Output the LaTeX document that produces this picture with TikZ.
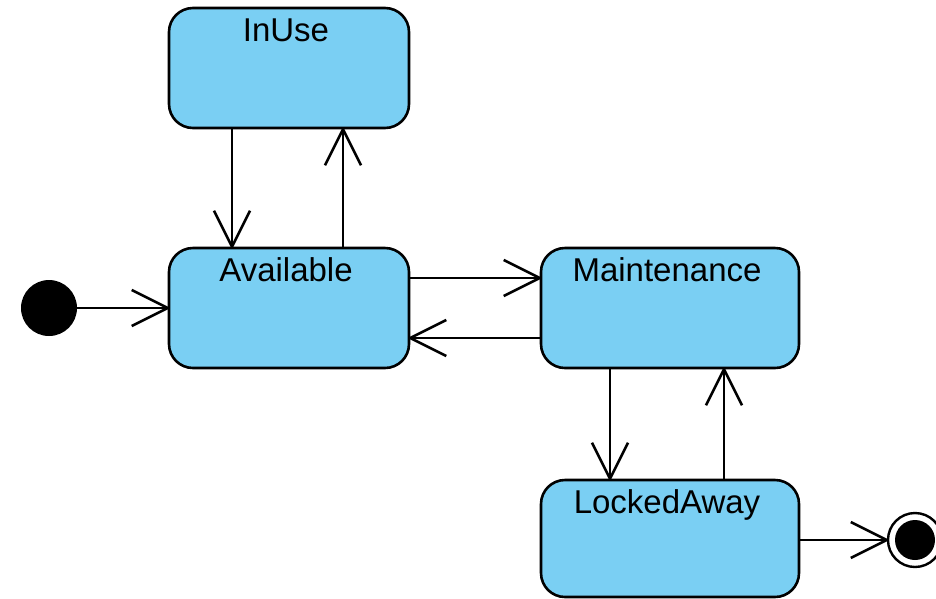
\documentclass[tikz,border=0pt]{standalone}
\usepackage{fontspec}
\setmainfont{Liberation Sans}
\usetikzlibrary{arrows.meta,calc}

% Open "V" arrow head made of two straight strokes
\pgfdeclarearrow{
  name = OpenV,
  parameters = {\the\pgfarrowlength,\the\pgfarrowwidth},
  setup code = {
    \pgfarrowssettipend{0pt}
    \pgfarrowssetlineend{-1pt}
    \pgfarrowssetbackend{-\pgfarrowlength}
    \pgfarrowssavethe\pgfarrowlength
    \pgfarrowssavethe\pgfarrowwidth
  },
  drawing code = {
    \pgfsetdash{}{0pt}
    \pgfsetroundjoin
    \pgfsetbuttcap
    \pgfpathmoveto{\pgfqpoint{-\pgfarrowlength}{0.5\pgfarrowwidth}}
    \pgfpathlineto{\pgfpointorigin}
    \pgfpathlineto{\pgfqpoint{-\pgfarrowlength}{-0.5\pgfarrowwidth}}
    \pgfusepathqstroke
  },
  defaults = {length = 36pt, width = 36pt}
}

\definecolor{statefill}{RGB}{122,207,243}

\tikzset{
  state/.style={draw=black, line width=2.6pt, fill=statefill,
    rounded corners=24pt, inner sep=0pt},
  statename/.style={anchor=base, inner sep=0pt, xshift=-3pt,
    font=\fontsize{33}{40}\selectfont},
  conn/.style={line width=2.6pt, -{OpenV}},
}

\begin{document}
\begin{tikzpicture}[x=1pt, y=-1pt]
  \useasboundingbox (0,0) rectangle (936,598);

  % states
  \node[state, minimum width=240pt, minimum height=120pt] (inuse) at (289,68) {};
  \node[state, minimum width=240pt, minimum height=120pt] (avail) at (289,308) {};
  \node[state, minimum width=258pt, minimum height=120pt] (maint) at (670,308) {};
  \node[state, minimum width=258pt, minimum height=117pt] (locked) at (670,538.5) {};

  % state names near the top edge
  \node[statename] (inuse-t) at ([yshift=-35pt]inuse.north) {InUse};
  \node[statename] (avail-t) at ([yshift=-35pt]avail.north) {Available};
  \node[statename] (maint-t) at ([yshift=-35pt]maint.north) {Maintenance};
  \node[statename] (locked-t) at ([yshift=-35pt]locked.north) {LockedAway};

  % pseudo states
  \node[circle, fill=black, minimum size=56pt, inner sep=0pt] (init) at (49,308) {};
  \node[circle, draw=black, line width=2.4pt, fill=white, minimum size=54pt, inner sep=0pt] (fin) at (915,540) {};
  \node[circle, fill=black, minimum size=40pt, inner sep=0pt] (fin-dot) at (fin.center) {};

  % connector tracks
  \coordinate (xa) at (232,0);
  \coordinate (xb) at (343,0);
  \coordinate (ya) at (0,278);
  \coordinate (yb) at (0,338);
  \coordinate (xc) at (610,0);
  \coordinate (xd) at (724,0);

  % transitions
  \draw[conn] (init.east) -- (avail.west);
  \draw[conn] (inuse.south -| xa) -- (avail.north -| xa);
  \draw[conn] (avail.north -| xb) -- (inuse.south -| xb);
  \draw[conn] (avail.east |- ya) -- (maint.west |- ya);
  \draw[conn] (maint.west |- yb) -- (avail.east |- yb);
  \draw[conn] (maint.south -| xc) -- (locked.north -| xc);
  \draw[conn] (locked.north -| xd) -- (maint.south -| xd);
  \draw[conn] (locked.east |- fin.west) -- (fin.west);
\end{tikzpicture}
\end{document}
